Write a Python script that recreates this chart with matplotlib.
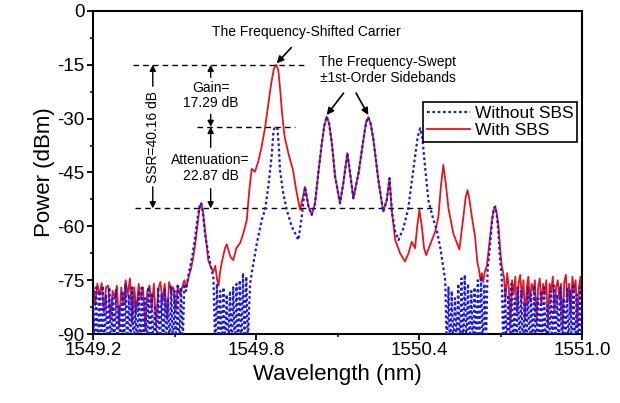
import matplotlib
matplotlib.use("Agg")
import matplotlib.pyplot as plt
from matplotlib.ticker import MultipleLocator
import numpy as np

plt.rcParams['font.family'] = ['Liberation Sans', 'DejaVu Sans']
plt.rcParams['axes.unicode_minus'] = False

# ---- data (wavelength nm, power dBm) ----
# with SBS (red, solid)
red_wl = [
    1549.200, 1549.208, 1549.216, 1549.224, 1549.232, 1549.240, 1549.248, 1549.256, 1549.264, 1549.272,
    1549.280, 1549.288, 1549.296, 1549.304, 1549.312, 1549.320, 1549.328, 1549.336, 1549.344, 1549.352,
    1549.360, 1549.368, 1549.376, 1549.384, 1549.392, 1549.400, 1549.408, 1549.416, 1549.424, 1549.432,
    1549.440, 1549.448, 1549.456, 1549.464, 1549.472, 1549.480, 1549.488, 1549.496, 1549.504, 1549.512,
    1549.520, 1549.528, 1549.536, 1549.544, 1549.552, 1549.560, 1549.568, 1549.576, 1549.584, 1549.591,
    1549.598, 1549.605, 1549.612, 1549.624, 1549.634, 1549.643, 1549.650, 1549.656, 1549.662, 1549.667,
    1549.674, 1549.680, 1549.686, 1549.692, 1549.698, 1549.706, 1549.716, 1549.728, 1549.741, 1549.753,
    1549.766, 1549.775, 1549.784, 1549.796, 1549.808, 1549.820, 1549.833, 1549.845, 1549.856, 1549.866,
    1549.874, 1549.882, 1549.890, 1549.895, 1549.905, 1549.920, 1549.936, 1549.948, 1549.962, 1549.972,
    1549.980, 1549.993, 1550.005, 1550.017, 1550.029, 1550.042, 1550.051, 1550.060, 1550.069, 1550.079,
    1550.091, 1550.109, 1550.121, 1550.136, 1550.146, 1550.158, 1550.177, 1550.195, 1550.205, 1550.213,
    1550.222, 1550.232, 1550.250, 1550.268, 1550.281, 1550.291, 1550.300, 1550.312, 1550.330, 1550.348,
    1550.361, 1550.373, 1550.385, 1550.393, 1550.401, 1550.410, 1550.418, 1550.426, 1550.440, 1550.459,
    1550.471, 1550.480, 1550.489, 1550.498, 1550.508, 1550.526, 1550.548, 1550.563, 1550.571, 1550.578,
    1550.585, 1550.594, 1550.606, 1550.614, 1550.620, 1550.626, 1550.631, 1550.636, 1550.642, 1550.649,
    1550.658, 1550.668, 1550.674, 1550.680, 1550.686, 1550.692, 1550.700, 1550.704, 1550.712, 1550.718,
    1550.724, 1550.730, 1550.736, 1550.742, 1550.748, 1550.754, 1550.760, 1550.766, 1550.772, 1550.778,
    1550.784, 1550.790, 1550.796, 1550.802, 1550.808, 1550.814, 1550.820, 1550.826, 1550.832, 1550.838,
    1550.844, 1550.850, 1550.856, 1550.862, 1550.868, 1550.874, 1550.880, 1550.886, 1550.892, 1550.898,
    1550.904, 1550.910, 1550.916, 1550.922, 1550.928, 1550.934, 1550.940, 1550.946, 1550.952, 1550.958,
    1550.964, 1550.970, 1550.976, 1550.982, 1550.988, 1550.994, 1551.000,
]
red_db = [
    -75.5, -82.0, -76.0, -79.0, -75.8, -84.0, -77.0, -76.5, -86.0, -78.0,
    -80.0, -76.5, -88.0, -77.0, -82.0, -75.0, -79.0, -74.5, -87.0, -77.0,
    -84.0, -76.0, -80.0, -77.0, -89.0, -78.0, -76.5, -83.0, -76.0, -88.0,
    -77.5, -75.5, -81.0, -76.0, -86.0, -75.5, -78.0, -77.0, -84.0, -76.5,
    -79.0, -77.0, -75.0, -77.0, -74.0, -72.0, -69.0, -65.0, -60.0, -55.5,
    -53.5, -56.0, -61.0, -69.4, -71.5, -72.6, -71.0, -74.5, -76.5, -73.0,
    -70.0, -68.0, -66.0, -65.0, -66.5, -68.5, -69.4, -66.0, -64.7, -62.0,
    -58.2, -50.0, -44.0, -44.8, -42.0, -38.0, -32.6, -26.0, -20.0, -16.0,
    -15.0, -16.5, -23.0, -28.0, -35.0, -40.0, -44.3, -50.0, -55.4, -52.0,
    -49.0, -54.5, -56.8, -53.6, -45.2, -36.9, -32.0, -29.4, -31.5, -36.9,
    -46.2, -53.6, -48.0, -39.6, -45.2, -52.2, -45.2, -35.9, -31.0, -29.6,
    -31.5, -35.9, -47.1, -55.9, -52.7, -46.6, -56.0, -63.8, -67.5, -69.8,
    -67.5, -64.3, -66.1, -60.0, -55.4, -60.0, -66.0, -68.0, -65.2, -61.5,
    -57.3, -49.0, -42.9, -48.0, -55.0, -62.0, -66.4, -57.3, -52.0, -49.9,
    -52.5, -57.3, -62.9, -69.8, -72.0, -75.0, -73.0, -75.5, -72.5, -71.2,
    -65.0, -58.2, -55.5, -54.5, -56.5, -60.0, -68.0, -71.0, -74.0, -80.0,
    -73.0, -77.0, -88.0, -75.0, -79.0, -74.0, -84.0, -76.0, -73.5, -80.0,
    -75.0, -86.0, -77.0, -74.0, -81.0, -76.0, -78.0, -75.0, -87.0, -77.0,
    -74.5, -82.0, -76.0, -79.0, -75.0, -88.0, -76.0, -78.0, -74.0, -84.0,
    -77.0, -75.0, -80.0, -76.0, -89.0, -75.5, -73.5, -81.0, -76.0, -85.0,
    -74.0, -78.0, -75.0, -88.0, -77.0, -74.0, -83.0,
]

# without SBS (blue, dotted)
blue_wl = [
    1549.200, 1549.206, 1549.212, 1549.218, 1549.224, 1549.230, 1549.236, 1549.242, 1549.248, 1549.254,
    1549.260, 1549.266, 1549.272, 1549.278, 1549.284, 1549.290, 1549.296, 1549.302, 1549.308, 1549.314,
    1549.320, 1549.326, 1549.332, 1549.338, 1549.344, 1549.350, 1549.356, 1549.362, 1549.368, 1549.374,
    1549.380, 1549.386, 1549.392, 1549.398, 1549.404, 1549.410, 1549.416, 1549.422, 1549.428, 1549.434,
    1549.440, 1549.446, 1549.452, 1549.458, 1549.464, 1549.470, 1549.476, 1549.482, 1549.488, 1549.494,
    1549.500, 1549.506, 1549.512, 1549.518, 1549.524, 1549.530, 1549.536, 1549.542, 1549.550, 1549.558,
    1549.566, 1549.576, 1549.584, 1549.592, 1549.598, 1549.604, 1549.612, 1549.624, 1549.636, 1549.643,
    1549.650, 1549.656, 1549.662, 1549.668, 1549.674, 1549.680, 1549.686, 1549.692, 1549.698, 1549.704,
    1549.710, 1549.716, 1549.722, 1549.728, 1549.734, 1549.740, 1549.746, 1549.752, 1549.758, 1549.764,
    1549.770, 1549.778, 1549.784, 1549.803, 1549.821, 1549.833, 1549.845, 1549.852, 1549.858, 1549.864,
    1549.868, 1549.873, 1549.879, 1549.884, 1549.888, 1549.900, 1549.913, 1549.931, 1549.956, 1549.968,
    1549.980, 1549.993, 1550.005, 1550.017, 1550.029, 1550.042, 1550.051, 1550.060, 1550.069, 1550.079,
    1550.091, 1550.109, 1550.121, 1550.136, 1550.146, 1550.158, 1550.177, 1550.195, 1550.205, 1550.213,
    1550.222, 1550.232, 1550.250, 1550.268, 1550.281, 1550.291, 1550.300, 1550.312, 1550.324, 1550.342,
    1550.360, 1550.372, 1550.385, 1550.395, 1550.404, 1550.412, 1550.420, 1550.434, 1550.452, 1550.465,
    1550.478, 1550.490, 1550.496, 1550.502, 1550.508, 1550.514, 1550.520, 1550.526, 1550.532, 1550.538,
    1550.544, 1550.550, 1550.556, 1550.562, 1550.568, 1550.574, 1550.580, 1550.586, 1550.592, 1550.598,
    1550.604, 1550.610, 1550.616, 1550.622, 1550.628, 1550.634, 1550.640, 1550.646, 1550.652, 1550.660,
    1550.668, 1550.674, 1550.680, 1550.686, 1550.692, 1550.698, 1550.704, 1550.710, 1550.716, 1550.722,
    1550.728, 1550.734, 1550.740, 1550.746, 1550.752, 1550.758, 1550.764, 1550.770, 1550.776, 1550.782,
    1550.788, 1550.794, 1550.800, 1550.806, 1550.812, 1550.818, 1550.824, 1550.830, 1550.836, 1550.842,
    1550.848, 1550.854, 1550.860, 1550.866, 1550.872, 1550.878, 1550.884, 1550.890, 1550.896, 1550.902,
    1550.908, 1550.914, 1550.920, 1550.926, 1550.932, 1550.938, 1550.944, 1550.950, 1550.956, 1550.962,
    1550.968, 1550.974, 1550.980, 1550.986, 1550.992, 1550.998,
]
blue_db = [
    -80.0, -95.0, -77.0, -95.0, -78.0, -95.0, -76.5, -95.0, -79.0, -95.0,
    -77.0, -95.0, -80.0, -95.0, -77.5, -95.0, -82.0, -95.0, -78.0, -95.0,
    -76.0, -95.0, -79.0, -95.0, -77.0, -95.0, -81.0, -95.0, -78.0, -95.0,
    -76.5, -95.0, -80.0, -95.0, -77.0, -95.0, -78.5, -95.0, -82.0, -95.0,
    -77.0, -95.0, -79.0, -95.0, -77.5, -95.0, -80.0, -95.0, -76.5, -95.0,
    -78.0, -95.0, -76.0, -95.0, -77.0, -93.0, -76.0, -78.0, -74.0, -71.0,
    -68.0, -63.0, -58.0, -54.5, -53.5, -56.0, -62.0, -67.5, -72.0, -74.0,
    -95.0, -76.0, -95.0, -78.0, -95.0, -77.0, -95.0, -79.0, -95.0, -78.0,
    -95.0, -77.0, -95.0, -76.0, -95.0, -75.0, -95.0, -73.0, -95.0, -74.0,
    -92.0, -76.0, -73.0, -64.7, -58.2, -55.4, -49.0, -44.3, -40.0, -33.5,
    -32.6, -32.3, -32.8, -38.0, -44.3, -50.8, -55.4, -60.0, -63.8, -57.3,
    -49.0, -54.5, -56.8, -53.6, -45.2, -36.9, -32.0, -29.4, -31.5, -36.9,
    -46.2, -53.6, -48.0, -39.6, -45.2, -52.2, -45.2, -35.9, -31.0, -29.6,
    -31.5, -35.9, -47.1, -55.9, -52.7, -46.6, -56.0, -61.5, -63.8, -60.5,
    -55.0, -48.0, -40.6, -35.0, -32.7, -35.5, -42.0, -52.7, -58.0, -61.0,
    -66.0, -72.0, -75.0, -95.0, -77.0, -95.0, -78.0, -95.0, -80.0, -94.0,
    -76.0, -95.0, -74.5, -95.0, -73.5, -95.0, -76.0, -95.0, -78.0, -95.0,
    -77.0, -95.0, -75.0, -95.0, -74.0, -95.0, -76.0, -93.0, -72.0, -66.0,
    -59.0, -55.0, -54.5, -57.0, -62.0, -69.4, -74.0, -95.0, -77.0, -95.0,
    -79.0, -95.0, -76.0, -95.0, -80.0, -95.0, -77.0, -95.0, -78.0, -95.0,
    -81.0, -95.0, -77.0, -95.0, -79.0, -95.0, -76.5, -95.0, -80.0, -95.0,
    -78.0, -95.0, -77.0, -95.0, -82.0, -95.0, -78.0, -95.0, -76.5, -95.0,
    -79.0, -95.0, -77.0, -95.0, -80.0, -95.0, -77.0, -95.0, -78.0, -95.0,
    -76.0, -95.0, -79.0, -95.0, -77.0, -95.0,
]

# annotation levels (dBm)
carrier_on = -15.0
carrier_off = -32.3
sideband = -55.0
x_ticks = [1549.2, 1549.8, 1550.4, 1551.0]
y_ticks = [0, -15, -30, -45, -60, -75, -90]

fig = plt.figure(figsize=(6.2, 4.03), dpi=100)
ax = fig.add_axes([0.150, 0.171, 0.789, 0.802])

ax.plot(blue_wl, blue_db, color='#1a1adc', ls=(0, (1.2, 1.2)), lw=1.6, label='Without SBS', zorder=3)
ax.plot(red_wl, red_db, color='#e8141c', ls='-', lw=1.3, label='With SBS', zorder=2)

ax.set_xlim(1549.2, 1551.0)
ax.set_ylim(-90, 0)
ax.set_xticks(x_ticks)
ax.set_xticklabels(['%.1f' % v for v in x_ticks])
ax.set_yticks(y_ticks)
ax.set_yticklabels(['%d' % v for v in y_ticks])
ax.xaxis.set_minor_locator(MultipleLocator(0.3))
ax.yaxis.set_minor_locator(MultipleLocator(7.5))
ax.tick_params(which='major', direction='out', length=4, width=1.3, labelsize=13.5, pad=2)
ax.tick_params(which='minor', direction='out', length=2.5, width=1.1)
for s in ax.spines.values():
    s.set_linewidth(1.5)
ax.set_xlabel('Wavelength (nm)', fontsize=16, labelpad=3)
ax.set_ylabel('Power (dBm)', fontsize=16, labelpad=2)

# dashed reference levels
ax.plot([1549.347, 1549.975], [carrier_on, carrier_on], 'k--', lw=1, dashes=(4, 3))
ax.plot([1549.583, 1549.944], [carrier_off, carrier_off], 'k--', lw=1, dashes=(4, 3))
ax.plot([1549.355, 1550.447], [sideband, sideband], 'k--', lw=1, dashes=(4, 3))

aprops = dict(arrowstyle='-|>', color='k', lw=1, mutation_scale=9, shrinkA=0, shrinkB=0)

# SSR double arrow with rotated text
ssr_x = 1549.420
ax.annotate('', xy=(ssr_x, carrier_on), xytext=(ssr_x, -21.0), arrowprops=aprops)
ax.annotate('', xy=(ssr_x, sideband), xytext=(ssr_x, -49.0), arrowprops=aprops)
ax.text(ssr_x, -35.0, 'SSR=40.16 dB', rotation=90, ha='center', va='center', fontsize=10)

# gain / attenuation arrows
g_x = 1549.633
ax.annotate('', xy=(g_x, carrier_on), xytext=(g_x, -18.5), arrowprops=aprops)
ax.annotate('', xy=(g_x, carrier_off), xytext=(g_x, -28.8), arrowprops=aprops)
ax.annotate('', xy=(g_x, carrier_off), xytext=(g_x, -38.0), arrowprops=aprops)
ax.annotate('', xy=(g_x, sideband), xytext=(g_x, -49.5), arrowprops=aprops)
ax.text(g_x, -23.6, 'Gain=\n17.29 dB', ha='center', va='center', fontsize=10, linespacing=1.15)
ax.text(g_x, -43.7, 'Attenuation=\n22.87 dB', ha='center', va='center', fontsize=10, linespacing=1.15)

# carrier label
ax.annotate('The Frequency-Shifted Carrier', xy=(1549.876, -14.6), xytext=(1549.984, -5.8),
            ha='center', va='center', fontsize=10,
            arrowprops=dict(arrowstyle='-|>', color='k', lw=1.2, mutation_scale=10,
                            shrinkA=6, shrinkB=0))

# sideband label
ax.text(1550.284, -16.5, 'The Frequency-Swept\n\u00b11st-Order Sidebands', ha='center', va='center',
        fontsize=10, linespacing=1.2)
ax.annotate('', xy=(1550.060, -29.0), xytext=(1550.122, -22.9),
            arrowprops=dict(arrowstyle='-|>', color='k', lw=1.2, mutation_scale=10, shrinkA=0, shrinkB=0))
ax.annotate('', xy=(1550.213, -29.0), xytext=(1550.168, -22.9),
            arrowprops=dict(arrowstyle='-|>', color='k', lw=1.2, mutation_scale=10, shrinkA=0, shrinkB=0))

leg = ax.legend(loc='upper right', bbox_to_anchor=(0.99, 0.718), borderaxespad=0, fontsize=12.5,
                fancybox=False, edgecolor='k', framealpha=1, handlelength=2.5, handletextpad=0.3,
                borderpad=0.2, labelspacing=0.15)
leg.get_frame().set_linewidth(1.2)

fig.savefig('out.png', dpi=100)
